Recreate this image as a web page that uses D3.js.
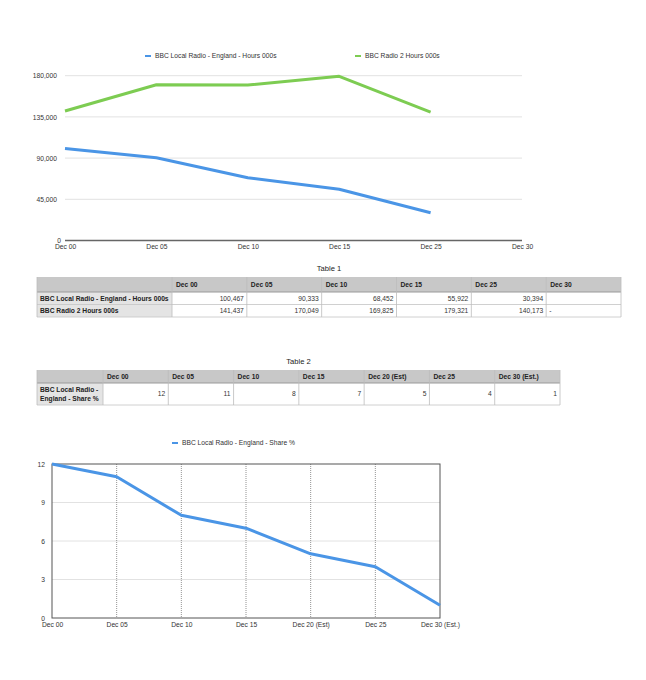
<!DOCTYPE html>
<html>
<head>
<meta charset="utf-8">
<script src="https://cdn.jsdelivr.net/npm/d3@7"></script>
<style>
  body { margin: 0; background: #fff; }
  svg { font-family: "Liberation Sans", Arial, Helvetica, sans-serif; display: block; }
</style>
</head>
<body>
<div id="page"></div>
<script>
// data
const hoursCats = ["Dec 00", "Dec 05", "Dec 10", "Dec 15", "Dec 25", "Dec 30"];
const localHours = [100467, 90333, 68452, 55922, 30394, null];
const radio2Hours = [141437, 170049, 169825, 179321, 140173, null];
const hoursTicks = [0, 45000, 90000, 135000, 180000];
const localName = "BBC Local Radio - England - Hours 000s";
const radio2Name = "BBC Radio 2 Hours 000s";

const shareCats = ["Dec 00", "Dec 05", "Dec 10", "Dec 15", "Dec 20 (Est)", "Dec 25", "Dec 30 (Est.)"];
const localShare = [12, 11, 8, 7, 5, 4, 1];
const shareTicks = [0, 3, 6, 9, 12];
const shareName = "BBC Local Radio - England - Share %";
const shareLabel = ["BBC Local Radio -", "England - Share %"];

const blue = "#4a95e6";
const green = "#7dcc52";
const fontSize = 6.7;

const svg = d3.select("#page")
    .append("svg")
    .attr("width", 646)
    .attr("height", 680);

/**
 * legend entry: short line + text
 */
function legend(x, y, color, label) {
    svg.append("line")
        .attr("x1", x).attr("x2", x + 6)
        .attr("y1", y).attr("y2", y)
        .attr("stroke", color)
        .attr("stroke-width", 2);
    svg.append("text")
        .attr("x", x + 10)
        .attr("y", y)
        .attr("dy", "0.35em")
        .attr("font-size", fontSize)
        .attr("fill", "#333")
        .text(label);
}

// ---------- Chart 1 ----------
const x1 = d3.scalePoint().domain(hoursCats).range([65, 522]);
const y1 = d3.scaleLinear().domain([0, 180000]).range([240.5, 75.7]);

const c1 = svg.append("g");

c1.selectAll(".grid")
    .data(hoursTicks.filter(d => d > 0))
    .enter()
    .append("line")
    .attr("x1", 65).attr("x2", 522)
    .attr("y1", d => y1(d)).attr("y2", d => y1(d))
    .attr("stroke", "#e2e2e2")
    .attr("stroke-width", 1);

const yAxis1 = c1.append("g")
    .attr("transform", "translate(57, 0)")
    .call(d3.axisLeft(y1).tickValues(hoursTicks).tickSize(0).tickPadding(0).tickFormat(d3.format(",")));
yAxis1.select(".domain").remove();
yAxis1.selectAll("text")
    .attr("font-size", fontSize)
    .attr("font-family", null)
    .attr("fill", "#333");
yAxis1.selectAll(".tick").filter(d => d === 0).select("text").attr("x", 4);

const xAxis1 = c1.append("g")
    .attr("transform", `translate(0, ${y1(0)})`)
    .call(d3.axisBottom(x1).tickSize(0).tickPadding(4));
xAxis1.select(".domain")
    .attr("stroke", "#666")
    .attr("stroke-width", 1.5)
    .attr("d", "M65,0H522");
xAxis1.selectAll("text")
    .attr("font-size", fontSize)
    .attr("font-family", null)
    .attr("fill", "#333");

const line1 = d3.line()
    .defined(d => d.v != null)
    .x(d => x1(d.c))
    .y(d => y1(d.v));

[[radio2Hours, green], [localHours, blue]].forEach(([vals, color]) => {
    c1.append("path")
        .datum(hoursCats.map((c, i) => ({ c, v: vals[i] })))
        .attr("fill", "none")
        .attr("stroke", color)
        .attr("stroke-width", 3)
        .attr("stroke-linejoin", "round")
        .attr("d", line1);
});

legend(145, 56, blue, localName);
legend(355, 56, green, radio2Name);

// ---------- Tables ----------
/**
 * draws a simple table: header row + data rows
 */
function table(opts) {
    const { left, right, top, labelW, headH, rowH, cats, rows, title, titleY } = opts;
    const cols = d3.scaleBand().domain(cats).range([left + labelW, right]);
    const g = svg.append("g");
    const totalH = headH + rowH * rows.length;

    g.append("text")
        .attr("x", (left + right) / 2)
        .attr("y", titleY)
        .attr("text-anchor", "middle")
        .attr("dy", "0.35em")
        .attr("font-size", 7.6)
        .attr("fill", "#222")
        .text(title);

    // header
    g.append("rect")
        .attr("x", left).attr("y", top)
        .attr("width", right - left).attr("height", headH)
        .attr("fill", "#c8c8c8");
    // label column
    g.append("rect")
        .attr("x", left).attr("y", top + headH)
        .attr("width", labelW).attr("height", rowH * rows.length)
        .attr("fill", "#e4e4e4");

    // row lines
    d3.range(rows.length + 1).forEach(i => {
        const yy = top + headH + i * rowH;
        g.append("line")
            .attr("x1", left).attr("x2", right)
            .attr("y1", yy).attr("y2", yy)
            .attr("stroke", i === 0 ? "#9a9a9a" : "#c4c4c4")
            .attr("stroke-width", i === 0 ? 1 : 0.8);
    });
    // column lines
    [left, ...cats.map(c => cols(c)), right].forEach(xx => {
        g.append("line")
            .attr("x1", xx).attr("x2", xx)
            .attr("y1", top).attr("y2", top + totalH)
            .attr("stroke", "#bdbdbd")
            .attr("stroke-width", 0.8);
    });

    g.selectAll(".head")
        .data(cats)
        .enter()
        .append("text")
        .attr("x", d => cols(d) + 4)
        .attr("y", top + headH / 2)
        .attr("dy", "0.35em")
        .attr("font-size", fontSize)
        .attr("font-weight", "bold")
        .attr("fill", "#222")
        .text(d => d);

    rows.forEach((r, ri) => {
        const cy = top + headH + ri * rowH + rowH / 2;
        const lines = Array.isArray(r.label) ? r.label : [r.label];
        lines.forEach((l, li) => {
            g.append("text")
                .attr("x", left + 3)
                .attr("y", cy + (li - (lines.length - 1) / 2) * 9)
                .attr("dy", "0.35em")
                .attr("font-size", fontSize)
                .attr("font-weight", "bold")
                .attr("fill", "#222")
                .text(l);
        });
        g.selectAll(null)
            .data(cats.map((c, i) => ({ c, v: r.values[i] })))
            .enter()
            .append("text")
            .attr("x", d => d.v === "-" ? cols(d.c) + 3 : cols(d.c) + cols.bandwidth() - 3)
            .attr("y", cy)
            .attr("dy", "0.35em")
            .attr("text-anchor", d => d.v === "-" ? "start" : "end")
            .attr("font-size", fontSize)
            .attr("fill", "#333")
            .text(d => d.v == null ? "" : (typeof d.v === "number" ? d3.format(",")(d.v) : d.v));
    });
}

table({
    left: 37, right: 621, top: 277, labelW: 135, headH: 15, rowH: 12.5,
    cats: hoursCats,
    title: "Table 1", titleY: 268,
    rows: [
        { label: localName, values: localHours },
        { label: radio2Name, values: radio2Hours.map(v => v == null ? "-" : v) }
    ]
});

table({
    left: 37, right: 560, top: 370, labelW: 66, headH: 13, rowH: 22,
    cats: shareCats,
    title: "Table 2", titleY: 361,
    rows: [
        { label: shareLabel, values: localShare }
    ]
});

// ---------- Chart 2 ----------
const x2 = d3.scalePoint().domain(shareCats).range([52, 440]);
const y2 = d3.scaleLinear().domain([0, 12]).range([618, 464]);

const c2 = svg.append("g");

c2.selectAll(".hgrid")
    .data(shareTicks.filter(d => d > 0 && d < 12))
    .enter()
    .append("line")
    .attr("x1", 52).attr("x2", 440)
    .attr("y1", d => y2(d)).attr("y2", d => y2(d))
    .attr("stroke", "#e2e2e2")
    .attr("stroke-width", 1);

c2.selectAll(".vgrid")
    .data(shareCats.slice(1, -1))
    .enter()
    .append("line")
    .attr("x1", d => x2(d)).attr("x2", d => x2(d))
    .attr("y1", 464).attr("y2", 618)
    .attr("stroke", "#777")
    .attr("stroke-width", 0.8)
    .attr("stroke-dasharray", "1,1");

c2.append("rect")
    .attr("x", 52).attr("y", 464)
    .attr("width", 388).attr("height", 154)
    .attr("fill", "none")
    .attr("stroke", "#555")
    .attr("stroke-width", 1);

const yAxis2 = c2.append("g")
    .attr("transform", "translate(45, 0)")
    .call(d3.axisLeft(y2).tickValues(shareTicks).tickSize(0).tickPadding(0));
yAxis2.select(".domain").remove();
yAxis2.selectAll("text")
    .attr("font-size", fontSize)
    .attr("font-family", null)
    .attr("fill", "#333");

const xAxis2 = c2.append("g")
    .attr("transform", "translate(0, 618)")
    .call(d3.axisBottom(x2).tickSize(0).tickPadding(4));
xAxis2.select(".domain").remove();
xAxis2.selectAll("text")
    .attr("font-size", fontSize)
    .attr("font-family", null)
    .attr("fill", "#333");

c2.append("path")
    .datum(shareCats.map((c, i) => ({ c, v: localShare[i] })))
    .attr("fill", "none")
    .attr("stroke", blue)
    .attr("stroke-width", 3)
    .attr("stroke-linejoin", "round")
    .attr("d", d3.line().x(d => x2(d.c)).y(d => y2(d.v)));

legend(172, 443, blue, shareName);
</script>
</body>
</html>
